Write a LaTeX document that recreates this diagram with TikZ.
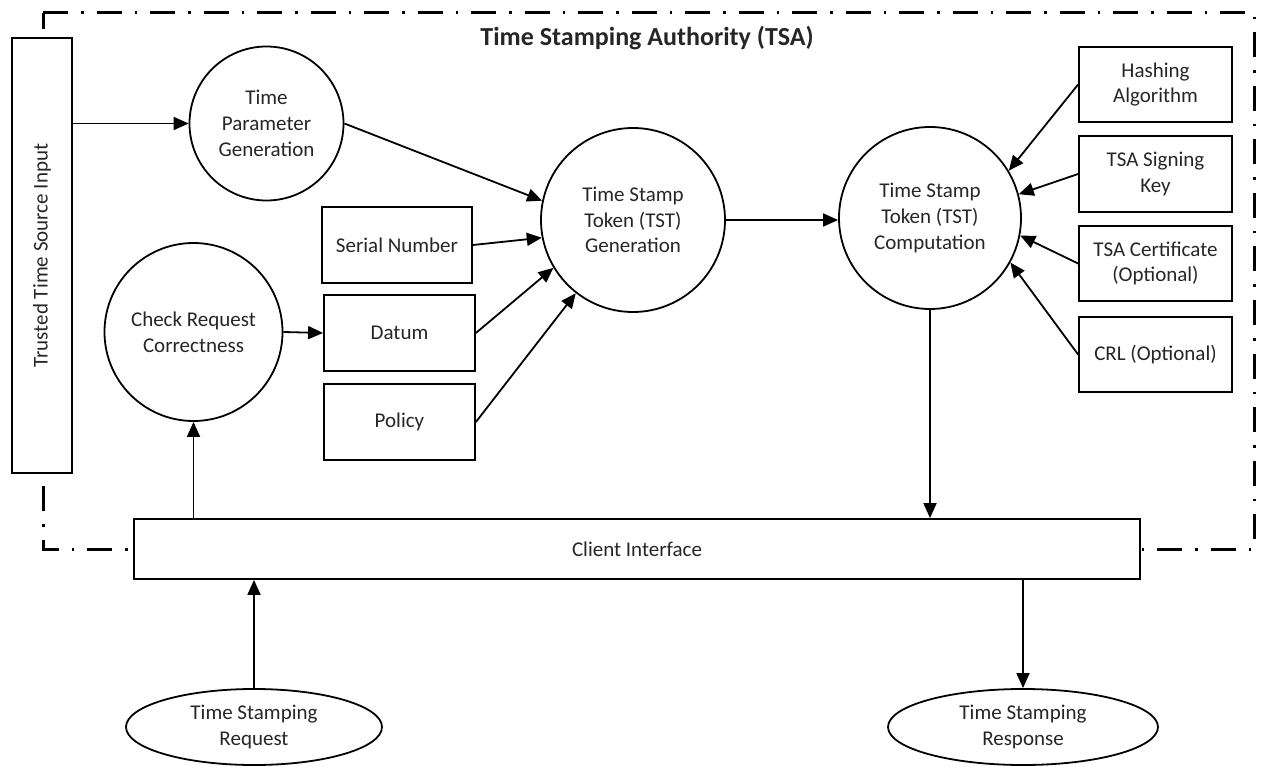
\documentclass[tikz,border=0pt]{standalone}
\usepackage{fontspec}
\setmainfont{Carlito}
\usetikzlibrary{arrows.meta,shapes.geometric}
\begin{document}
\begin{tikzpicture}[x=1pt,y=-1pt,
  every node/.style={font=\fontsize{21}{25.7}\selectfont, text=black!85, align=center, inner sep=0pt},
  proc/.style={draw, circle, line width=1.8pt, fill=white, minimum size=#1},
  box/.style={draw, rectangle, line width=1.8pt, fill=white},
  term/.style={draw, ellipse, line width=1.8pt, fill=white, minimum width=#1, minimum height=76pt},
  arr/.style={line width=1.8pt, -{Triangle[length=15pt,width=13pt]}},
  bound/.style={line width=3pt, dash pattern=on 25pt off 13pt on 2.5pt off 13pt}]
\useasboundingbox (0,0) rectangle (1261,767);
\draw[bound] (43,13) -- (1254,13) -- (1254,549) -- (43,549) -- cycle;
\node[font=\fontsize{26}{31}\selectfont\bfseries] (title) at (647,38) {Time Stamping Authority (TSA)};
\node[box, minimum width=60pt, minimum height=435pt] (ttsi) at (42,255.5) {};
\node[rotate=90] (ttsil) at (ttsi.center) {Trusted Time Source Input};
\node[proc=154pt] (tpg) at (266.5,123.5) {Time\\Parameter\\Generation};
\node[proc=184pt] (gen) at (633,220) {Time Stamp\\Token (TST)\\Generation};
\node[proc=182pt] (comp) at (930,218) {Time Stamp\\Token (TST)\\Computation};
\node[proc=178pt] (crc) at (193.5,332) {Check Request\\Correctness};
\node[box, minimum width=150pt, minimum height=76pt] (serial) at (397,245) {Serial Number};
\node[box, minimum width=151pt, minimum height=76pt] (datum) at (399.5,333) {Datum};
\node[box, minimum width=151pt, minimum height=76pt] (policy) at (399.5,422) {Policy};
\node[box, minimum width=153pt, minimum height=75pt] (hash) at (1155.5,84.5) {Hashing\\Algorithm};
\node[box, minimum width=153pt, minimum height=76pt] (key) at (1155.5,174) {TSA Signing\\Key};
\node[box, minimum width=153pt, minimum height=75pt] (cert) at (1155.5,263.5) {TSA Certificate\\(Optional)};
\node[box, minimum width=153pt, minimum height=75pt] (crl) at (1155.5,354.5) {CRL (Optional)};
\node[box, minimum width=1006pt, minimum height=60pt] (client) at (637,549) {Client Interface};
\node[term=256pt] (req) at (254,727) {Time Stamping\\Request};
\node[term=270pt] (resp) at (1023,727) {Time Stamping\\Response};
% connectors
\draw[arr] (ttsi.east |- tpg.west) -- (tpg.west);
\draw[arr] (tpg.east) -- (gen.168);
\draw[arr] (serial.east) -- (gen.191);
\draw[arr] (datum.east) -- (gen.211);
\draw[arr] (policy.east) -- (gen.232);
\draw[arr] (crc.east) -- (datum.west);
\draw[arr] (gen.east) -- (gen.east -| comp.west);
\draw[arr] (hash.west) -- (comp.31);
\draw[arr] (key.west) -- (comp.15);
\draw[arr] (cert.west) -- (comp.-11);
\draw[arr] (crl.west) -- (comp.-29);
\draw[arr] (comp.south) -- (comp.south |- client.north);
\draw[arr] (crc.south |- client.north) -- (crc.south);
\draw[arr] (req.north) -- (req.north |- client.south);
\draw[arr] (resp.north |- client.south) -- (resp.north);
\end{tikzpicture}
\end{document}
